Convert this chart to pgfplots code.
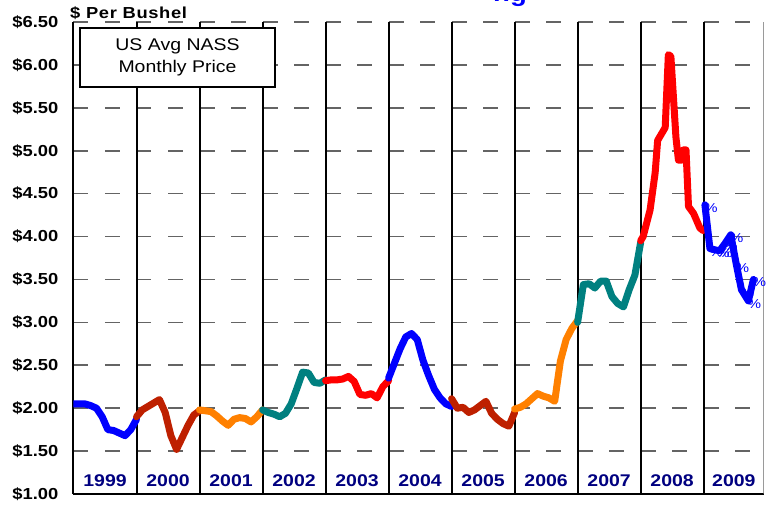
\documentclass[border=0pt]{standalone}
\usepackage{pgfplots}
\pgfplotsset{compat=1.18}
\usepackage{fontspec}
\setmainfont[FakeStretch=1.15]{Liberation Sans}
\definecolor{cblue}{RGB}{0,0,255}
\definecolor{cdred}{RGB}{190,32,0}
\definecolor{corange}{RGB}{255,128,0}
\definecolor{cteal}{RGB}{0,128,128}
\definecolor{cred}{RGB}{255,0,0}
\definecolor{navy}{RGB}{0,0,128}
\definecolor{gridgrey}{RGB}{100,100,100}

\begin{document}
\begin{tikzpicture}
\useasboundingbox (-73.5bp,-11bp) rectangle (701.5bp,494bp);
\begin{axis}[
    at={(0,0)}, anchor=south west,
    scale only axis, width=690bp, height=472bp,
    xmin=1999, xmax=2009.95, ymin=1, ymax=6.5,
    axis x line=bottom, axis y line=left,
    axis line style={-, black, line width=2bp},
    xtick=\empty,
    extra x ticks={2000,2001,2002,2003,2004,2005,2006,2007,2008,2009},
    extra x tick labels={},
    extra x tick style={grid=major, major grid style={black, line width=2bp}},
    ytick={1,1.5,...,6.5},
    major tick length=0pt,
    ymajorgrids=true,
    y grid style={gridgrey, line width=1.6bp, dash pattern=on 15bp off 16.5bp},
    /pgf/number format/assume math mode=true,
    yticklabel={\$\pgfmathprintnumber[fixed,fixed zerofill,precision=2]{\tick}},
    yticklabel style={font=\fontsize{16}{16}\selectfont\bfseries, inner sep=0pt, xshift=-15bp},
    every axis plot/.append style={line width=7bp, line join=round, line cap=round, mark=none},
  ]
  % 1999
  \addplot[cblue] coordinates {(1999.000,2.05)(1999.091,2.05)(1999.182,2.05)(1999.273,2.03)(1999.364,2.00)(1999.455,1.90)(1999.545,1.75)(1999.636,1.74)(1999.727,1.71)(1999.818,1.68)(1999.909,1.75)(2000.000,1.87)};
  % 2000
  \addplot[cdred] coordinates {(2000.000,1.90)(2000.091,1.98)(2000.182,2.02)(2000.273,2.06)(2000.364,2.10)(2000.455,1.95)(2000.545,1.68)(2000.636,1.52)(2000.727,1.66)(2000.818,1.80)(2000.909,1.92)(2001.000,1.97)};
  % 2001
  \addplot[corange] coordinates {(2001.000,1.98)(2001.091,1.97)(2001.182,1.96)(2001.273,1.91)(2001.364,1.85)(2001.455,1.80)(2001.545,1.87)(2001.636,1.89)(2001.727,1.88)(2001.818,1.84)(2001.909,1.90)(2002.000,1.98)};
  % 2002
  \addplot[cteal] coordinates {(2002.000,1.98)(2002.091,1.95)(2002.182,1.93)(2002.273,1.90)(2002.364,1.94)(2002.455,2.05)(2002.545,2.23)(2002.636,2.42)(2002.727,2.41)(2002.818,2.30)(2002.909,2.29)(2003.000,2.33)};
  % 2003
  \addplot[cred] coordinates {(2003.000,2.32)(2003.091,2.33)(2003.182,2.33)(2003.273,2.34)(2003.364,2.37)(2003.455,2.31)(2003.545,2.16)(2003.636,2.15)(2003.727,2.17)(2003.818,2.12)(2003.909,2.25)(2004.000,2.32)};
  % 2004
  \addplot[cblue] coordinates {(2004.000,2.35)(2004.091,2.52)(2004.182,2.69)(2004.273,2.83)(2004.364,2.87)(2004.455,2.80)(2004.545,2.56)(2004.636,2.38)(2004.727,2.22)(2004.818,2.12)(2004.909,2.05)(2005.000,2.02)};
  % 2005
  \addplot[cdred] coordinates {(2005.000,2.11)(2005.091,2.00)(2005.182,2.01)(2005.273,1.95)(2005.364,1.98)(2005.455,2.03)(2005.545,2.08)(2005.636,1.94)(2005.727,1.87)(2005.818,1.82)(2005.909,1.79)(2006.000,1.95)};
  % 2006
  \addplot[corange] coordinates {(2006.000,1.99)(2006.091,2.01)(2006.182,2.05)(2006.273,2.11)(2006.364,2.17)(2006.455,2.14)(2006.545,2.12)(2006.636,2.08)(2006.727,2.55)(2006.818,2.80)(2006.909,2.93)(2007.000,3.02)};
  % 2007
  \addplot[cteal] coordinates {(2007.000,3.00)(2007.091,3.44)(2007.182,3.45)(2007.273,3.40)(2007.364,3.48)(2007.455,3.48)(2007.545,3.30)(2007.636,3.22)(2007.727,3.18)(2007.818,3.38)(2007.909,3.55)(2008.000,3.93)};
  % 2008
  \addplot[cred] coordinates {(2008.00,3.95)(2008.04,4.00)(2008.15,4.31)(2008.23,4.74)(2008.27,5.12)(2008.39,5.27)(2008.44,6.12)(2008.48,6.10)(2008.56,5.16)(2008.60,4.89)(2008.65,4.89)(2008.68,5.01)(2008.72,5.01)(2008.76,4.35)(2008.84,4.27)(2008.94,4.10)(2008.99,4.07)};
  % 2009
  \addplot[cblue] coordinates {(2009.02,4.37)(2009.10,3.86)(2009.21,3.84)(2009.26,3.84)(2009.34,3.92)(2009.43,4.02)(2009.52,3.67)(2009.60,3.38)(2009.71,3.25)(2009.79,3.50)};
  \addplot[only marks, line width=0.4bp, mark=text, text mark={\%}, text mark as node=true,
    text mark style={font=\fontsize{13}{13}\selectfont, text=cblue, inner sep=0pt, xshift=6bp, yshift=-3bp}]
    coordinates {(2009.02,4.37)(2009.10,3.86)(2009.21,3.84)(2009.26,3.84)(2009.34,3.92)(2009.43,4.02)(2009.52,3.67)(2009.60,3.38)(2009.71,3.25)(2009.79,3.50)};
  \draw[gridgrey, line width=1.5bp] (rel axis cs:1,0) -- (rel axis cs:1,1);
  \foreach \yr/\xc in {1999/1999.5,2000/2000.5,2001/2001.5,2002/2002.5,2003/2003.5,2004/2004.5,2005/2005.5,2006/2006.5,2007/2007.5,2008/2008.5,2009/2009.48}{
    \edef\tmp{\noexpand\node[font=\noexpand\fontsize{17}{17}\noexpand\selectfont\noexpand\bfseries, text=navy] at (axis cs:\xc,1.15) {\yr};}
    \tmp
  }
\end{axis}
\node[draw=black, line width=1.3bp, fill=white, minimum width=195bp, minimum height=59bp,
  align=center, font=\fontsize{17}{21.5}\selectfont] at (104bp,436.5bp) {US Avg NASS\\Monthly Price};
\node[anchor=base west, inner sep=0pt, font=\fontsize{16}{16}\selectfont\bfseries\addfontfeature{LetterSpace=4}] at (-3.5bp,475.7bp) {\$ Per Bushel};
\node[anchor=base east, inner sep=0pt, text=cblue, font=\fontsize{24}{24}\selectfont\bfseries] at (453.5bp,492bp) {ng};
\end{tikzpicture}
\end{document}
